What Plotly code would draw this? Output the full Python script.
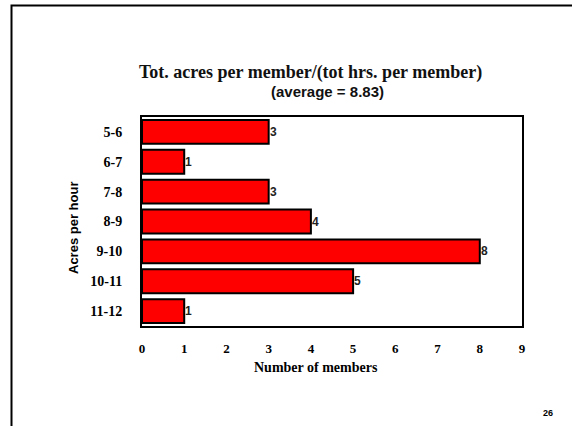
import plotly.graph_objects as go

# Acres-per-hour classes and how many members fall in each
categories = ["5-6", "6-7", "7-8", "8-9", "9-10", "10-11", "11-12"]
members = [3, 1, 3, 4, 8, 5, 1]
x_ticks = [0, 1, 2, 3, 4, 5, 6, 7, 8, 9]

W, H = 572, 426
L, R, T, B = 142, 50, 117, 100
pw, ph = W - L - R, H - T - B

serif = "Liberation Serif"
sans = "Liberation Sans"


def px(x):
    return (x - L) / pw


def py(y):
    return (H - B - y) / ph


fig = go.Figure(
    go.Bar(
        y=categories,
        x=members,
        orientation="h",
        marker=dict(color="#ff0000", line=dict(color="black", width=2)),
        cliponaxis=False,
    )
)

# Value labels butted against the end of each bar
for cat, val in zip(categories, members):
    fig.add_annotation(text=str(val), x=val, y=cat, xref="x", yref="y",
                       showarrow=False, xanchor="left", yanchor="middle",
                       xshift=-1,
                       font=dict(family=sans, size=12, color="#222222", weight="bold"))

fig.update_layout(
    width=W,
    height=H,
    margin=dict(l=L, r=R, t=T, b=B),
    paper_bgcolor="white",
    plot_bgcolor="white",
    showlegend=False,
    bargap=0.2,
    xaxis=dict(
        range=[0, 9],
        tickvals=x_ticks,
        showgrid=False,
        zeroline=False,
        showline=True,
        mirror=True,
        linecolor="black",
        linewidth=2,
        ticks="outside",
        ticklen=9,
        tickcolor="rgba(0,0,0,0)",
        tickfont=dict(family=serif, size=13, color="black", weight="bold"),
    ),
    yaxis=dict(
        type="category",
        categoryorder="array",
        categoryarray=categories,
        autorange="reversed",
        showgrid=False,
        showline=True,
        mirror=True,
        linecolor="black",
        linewidth=2,
        ticks="outside",
        ticklen=15,
        tickcolor="rgba(0,0,0,0)",
        tickfont=dict(family=serif, size=14, color="black", weight="bold"),
    ),
)

# Slide frame
fig.add_shape(type="rect", xref="paper", yref="paper",
              x0=px(11.5), x1=px(W + 20), y0=py(5.5), y1=py(H + 20),
              line=dict(color="black", width=2), layer="above")

# Axis titles
fig.add_annotation(text="Number of members",
                   xref="paper", yref="paper", x=px(316), y=py(367),
                   showarrow=False, xanchor="center", yanchor="middle",
                   font=dict(family=serif, size=14, color="black", weight="bold"))
fig.add_annotation(text="Acres per hour", textangle=-90,
                   xref="paper", yref="paper", x=px(73), y=py(228),
                   showarrow=False, xanchor="center", yanchor="middle",
                   font=dict(family=sans, size=13, color="black", weight="bold"))

# Titles
fig.add_annotation(text="Tot. acres per member/(tot hrs. per member)",
                   xref="paper", yref="paper", x=px(310), y=py(72),
                   showarrow=False, xanchor="center", yanchor="middle",
                   font=dict(family=serif, size=18, color="#111111", weight="bold"))
fig.add_annotation(text="(average = 8.83)",
                   xref="paper", yref="paper", x=px(327), y=py(91),
                   showarrow=False, xanchor="center", yanchor="middle",
                   font=dict(family=sans, size=15, color="#111111", weight="bold"))
fig.add_annotation(text="26",
                   xref="paper", yref="paper", x=px(548), y=py(413),
                   showarrow=False, xanchor="center", yanchor="middle",
                   font=dict(family=sans, size=9, color="black", weight="bold"))

fig.write_html("out.html")
